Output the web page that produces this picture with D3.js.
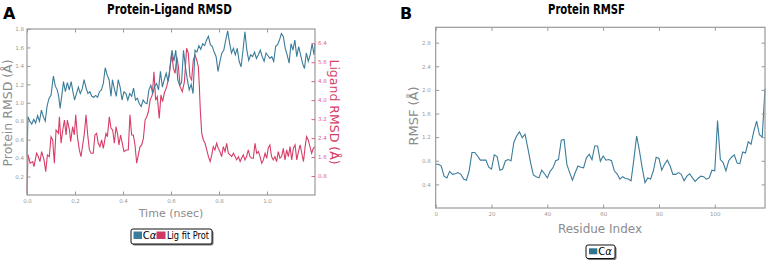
<!DOCTYPE html>
<html>
<head>
<meta charset="utf-8">
<script src="https://cdnjs.cloudflare.com/ajax/libs/d3/7.8.5/d3.min.js"></script>
<style>
  body { margin: 0; background: #fff; }
  svg { display: block; }
  text { font-family: "DejaVu Sans", sans-serif; }
</style>
</head>
<body>
<div id="wrapper"></div>
<script>
// ---- panel A : protein-ligand RMSD ----
const caTime = [
  0, 0.004, 0.012, 0.02, 0.028, 0.036, 0.044, 0.052, 0.06, 0.068,
  0.076, 0.084, 0.092, 0.1, 0.11, 0.118, 0.126, 0.132, 0.138, 0.146,
  0.152, 0.16, 0.168, 0.176, 0.184, 0.19, 0.198, 0.206, 0.214, 0.222,
  0.23, 0.238, 0.246, 0.254, 0.262, 0.27, 0.278, 0.286, 0.294, 0.302,
  0.31, 0.318, 0.326, 0.334, 0.342, 0.35, 0.356, 0.364, 0.372, 0.38,
  0.388, 0.396, 0.404, 0.412, 0.42, 0.428, 0.436, 0.444, 0.452, 0.46,
  0.468, 0.476, 0.484, 0.492, 0.5, 0.508, 0.516, 0.524, 0.532, 0.54,
  0.548, 0.556, 0.564, 0.572, 0.58, 0.588, 0.596, 0.604, 0.612, 0.62,
  0.628, 0.636, 0.644, 0.652, 0.66, 0.668, 0.676, 0.684, 0.692, 0.7,
  0.708, 0.716, 0.724, 0.732, 0.74, 0.748, 0.756, 0.764, 0.772, 0.78,
  0.788, 0.796, 0.804, 0.812, 0.82, 0.828, 0.836, 0.844, 0.852, 0.86,
  0.868, 0.876, 0.884, 0.892, 0.9, 0.908, 0.916, 0.924, 0.932, 0.94,
  0.948, 0.956, 0.964, 0.972, 0.98, 0.988, 0.996, 1.004, 1.012, 1.02,
  1.028, 1.036, 1.044, 1.052, 1.06, 1.068, 1.076, 1.084, 1.092, 1.1,
  1.108, 1.116, 1.124, 1.132, 1.14, 1.148, 1.156, 1.164, 1.172, 1.18,
  1.188, 1.196, 1.2
]
const caRmsd = [
  0.42, 0.85, 0.80, 0.77, 0.82, 0.78, 0.86, 0.80, 0.92, 0.85,
  0.80, 0.97, 1.05, 1.08, 1.29, 1.18, 1.14, 1.07, 0.94, 1.10,
  1.23, 1.12, 1.22, 1.14, 1.23, 1.14, 1.03, 1.10, 1.17, 1.10,
  1.15, 1.25, 1.16, 1.10, 1.12, 1.07, 1.06, 1.08, 1.06, 1.12,
  1.14, 1.21, 1.38, 1.30, 1.25, 1.07, 1.25, 1.15, 1.07, 1.25,
  1.17, 1.03, 1.12, 1.10, 1.03, 1.10, 1.07, 1.16, 1.03, 1.05,
  0.99, 0.96, 1.03, 1.00, 0.99, 1.14, 1.19, 1.10, 1.18, 1.21,
  1.14, 1.34, 1.17, 1.25, 1.32, 1.23, 1.39, 1.57, 1.45, 1.57,
  1.25, 1.19, 1.22, 1.57, 1.39, 1.25, 1.14, 1.20, 1.10, 1.57,
  1.55, 1.62, 1.58, 1.64, 1.62, 1.68, 1.72, 1.63, 1.61, 1.55,
  1.50, 1.34, 1.45, 1.54, 1.57, 1.68, 1.78, 1.65, 1.54, 1.59,
  1.52, 1.59, 1.45, 1.39, 1.57, 1.77, 1.57, 1.46, 1.52, 1.50,
  1.55, 1.48, 1.52, 1.57, 1.50, 1.45, 1.54, 1.51, 1.48, 1.50,
  1.45, 1.61, 1.63, 1.68, 1.75, 1.72, 1.59, 1.52, 1.43, 1.64,
  1.57, 1.68, 1.50, 1.61, 1.52, 1.43, 1.37, 1.54, 1.45, 1.52,
  1.64, 1.52, 1.64
]
const ligTime = [
  0, 0.004, 0.013, 0.024, 0.029, 0.040, 0.047, 0.054, 0.061, 0.071,
  0.078, 0.085, 0.093, 0.100, 0.107, 0.114, 0.121, 0.131, 0.135, 0.142,
  0.149, 0.156, 0.163, 0.168, 0.177, 0.182, 0.190, 0.197, 0.203, 0.210,
  0.218, 0.225, 0.232, 0.239, 0.246, 0.253, 0.260, 0.267, 0.276, 0.283,
  0.290, 0.297, 0.304, 0.311, 0.318, 0.329, 0.335, 0.343, 0.350, 0.357,
  0.364, 0.371, 0.378, 0.383, 0.390, 0.397, 0.404, 0.413, 0.422, 0.429,
  0.436, 0.443, 0.450, 0.457, 0.464, 0.471, 0.478, 0.485, 0.492, 0.499,
  0.506, 0.513, 0.522, 0.529, 0.536, 0.543, 0.551, 0.558, 0.565, 0.572,
  0.582, 0.592, 0.603, 0.610, 0.617, 0.624, 0.631, 0.638, 0.647, 0.656,
  0.665, 0.672, 0.679, 0.686, 0.693, 0.700, 0.707, 0.714, 0.718, 0.722,
  0.728, 0.735, 0.742, 0.749, 0.756, 0.763, 0.770, 0.776, 0.783, 0.790,
  0.797, 0.804, 0.811, 0.818, 0.825, 0.832, 0.839, 0.846, 0.853, 0.860,
  0.867, 0.874, 0.881, 0.888, 0.894, 0.901, 0.908, 0.915, 0.922, 0.929,
  0.936, 0.943, 0.950, 0.957, 0.964, 0.971, 0.978, 0.985, 0.992, 0.999,
  1.005, 1.012, 1.019, 1.026, 1.033, 1.040, 1.047, 1.054, 1.061, 1.068,
  1.075, 1.082, 1.089, 1.096, 1.103, 1.110, 1.117, 1.124, 1.131, 1.138,
  1.145, 1.152, 1.159, 1.165, 1.172, 1.179, 1.186, 1.193, 1.2
]
const ligRmsd = [
  0.07, 1.7, 1.34, 1.41, 1.2, 1.76, 1.62, 1.41, 1.83, 1.48,
  0.98, 1.69, 1.62, 2.46, 2.32, 1.34, 2.74, 2.6, 3.3, 2.18,
  2.74, 3.16, 2.53, 3.16, 2.74, 2.25, 2.88, 2.53, 3.38, 2.46,
  1.9, 1.62, 2.11, 2.6, 3.38, 2.53, 1.9, 1.76, 1.76, 2.53,
  2.6, 2.18, 2.04, 2.32, 1.97, 2.6, 2.46, 3.3, 2.81, 2.74,
  2.18, 2.88, 2.53, 2.11, 2.53, 2.18, 1.83, 1.9, 1.9, 3.38,
  2.53, 2.53, 2.11, 1.34, 1.69, 2.04, 2.11, 2.39, 3.16, 3.3,
  3.52, 4.0, 4.22, 5.2, 4.0, 4.15, 3.23, 4.22, 3.94, 4.29,
  4.57, 5.0, 5.98, 5.35, 5.13, 5.84, 5.41, 4.57, 4.36, 4.78,
  6.19, 5.98, 4.99, 4.85, 5.7, 5.91, 5.7, 5.41, 4.6, 3.6,
  2.6, 2.32, 2.18, 1.9, 1.62, 1.41, 1.69, 2.04, 1.9, 2.18,
  1.97, 1.83, 1.62, 2.04, 1.83, 2.18, 1.76, 1.69, 1.62, 1.76,
  1.62, 1.48, 1.62, 1.41, 1.55, 1.69, 1.48, 1.62, 1.9, 1.62,
  1.55, 1.55, 2.18, 1.76, 1.83, 1.62, 1.34, 1.48, 1.76, 1.55,
  1.97, 2.11, 1.62, 1.48, 1.62, 1.41, 1.83, 1.55, 1.62, 1.97,
  1.48, 1.9, 1.62, 2.04, 1.48, 1.97, 2.11, 1.48, 1.83, 2.11,
  1.76, 1.41, 2.04, 2.46, 2.32, 2.04, 1.76, 1.97, 2.04
]
const timeTicks = [0, 0.2, 0.4, 0.6, 0.8, 1.0]
const proteinTicks = [0.2, 0.4, 0.6, 0.8, 1.0, 1.2, 1.4, 1.6, 1.8]
const ligandTicks = [0.8, 1.6, 2.4, 3.2, 4.0, 4.8, 5.6, 6.4]

// ---- panel B : protein RMSF ----
const rmsfValues = [
  0.74, 0.74, 0.71, 0.54, 0.51, 0.62, 0.57, 0.58, 0.6, 0.57,
  0.49, 0.47, 0.63, 0.94, 0.94, 0.88, 0.81, 0.81, 0.81, 0.69,
  0.66, 0.9, 0.87, 0.64, 0.66, 0.8, 0.82, 0.8, 1.11, 1.22,
  1.29, 1.19, 1.25, 1.02, 0.77, 0.56, 0.53, 0.51, 0.64, 0.58,
  0.51, 0.62, 0.68, 0.8, 0.82, 1.15, 1.16, 0.74, 0.6, 0.47,
  0.6, 0.71, 0.69, 0.68, 0.85, 0.91, 0.82, 1.05, 1.05, 0.79,
  0.88, 0.81, 0.82, 0.8, 0.63, 0.58, 0.49, 0.53, 0.5, 0.49,
  0.46, 0.82, 1.22, 0.97, 0.68, 0.43, 0.51, 0.49, 0.63, 0.86,
  0.84, 0.64, 0.74, 0.81, 0.71, 0.57, 0.57, 0.6, 0.57, 0.46,
  0.54, 0.58, 0.51, 0.45, 0.5, 0.54, 0.53, 0.49, 0.51, 0.64,
  0.63, 1.48, 0.82, 0.77, 0.63, 0.8, 0.86, 0.9, 0.76, 0.75,
  0.95, 0.93, 1.12, 1.08, 1.3, 1.47, 1.24, 1.2, 2.02
]
const residueIndex = rmsfValues.map((d, i) => i)
const residueTicks = [0, 20, 40, 60, 80, 100]
const rmsfTicks = [0.4, 0.8, 1.2, 1.6, 2.0, 2.4, 2.8]

const blue = "#3a7c9a"
const red = "#d63d67"
const gray = "#999"

function drawCharts() {
  const wrapper = d3.select("#wrapper").append("svg")
    .attr("width", 768)
    .attr("height", 262)

  // panel letters + titles
  wrapper.append("text").attr("x", 3).attr("y", 18.5)
    .attr("font-family", "Liberation Sans, Arial, sans-serif")
    .attr("font-weight", "bold").attr("font-size", 16).text("A")
  wrapper.append("text").attr("x", 400).attr("y", 18.5)
    .attr("font-family", "Liberation Sans, Arial, sans-serif")
    .attr("font-weight", "bold").attr("font-size", 16).text("B")

  wrapper.append("text").attr("x", 107).attr("y", 13.5)
    .attr("font-family", "Liberation Sans Narrow, Arial Narrow, Liberation Sans, sans-serif")
    .attr("font-weight", "bold").attr("font-size", 14.5)
    .attr("textLength", 125).attr("lengthAdjust", "spacingAndGlyphs")
    .text("Protein-Ligand RMSD")
  wrapper.append("text").attr("x", 548).attr("y", 13.5)
    .attr("font-family", "Liberation Sans Narrow, Arial Narrow, Liberation Sans, sans-serif")
    .attr("font-weight", "bold").attr("font-size", 14.5)
    .attr("textLength", 77).attr("lengthAdjust", "spacingAndGlyphs")
    .text("Protein RMSF")

  // ===== panel A =====
  const dimA = { left: 27, right: 315, top: 29, bottom: 195 }

  const xScaleA = d3.scaleLinear().domain([0, 1.2]).range([dimA.left, dimA.right])
  const yScaleA = d3.scaleLinear().domain([0, 1.8]).range([dimA.bottom, dimA.top])
  const y2ScaleA = d3.scaleLinear().domain([0, 7]).range([dimA.bottom, dimA.top])

  const caLine = d3.line()
    .x((d, i) => xScaleA(caTime[i]))
    .y(d => yScaleA(d))
  const ligLine = d3.line()
    .x((d, i) => xScaleA(ligTime[i]))
    .y(d => y2ScaleA(d))

  wrapper.append("path")
    .attr("d", ligLine(ligRmsd))
    .attr("fill", "none").attr("stroke", red).attr("stroke-width", 1.1)
  wrapper.append("path")
    .attr("d", caLine(caRmsd))
    .attr("fill", "none").attr("stroke", blue).attr("stroke-width", 1.1)

  wrapper.append("rect")
    .attr("x", dimA.left).attr("y", dimA.top)
    .attr("width", dimA.right - dimA.left).attr("height", dimA.bottom - dimA.top)
    .attr("fill", "none").attr("stroke", gray).attr("stroke-width", 1.2)

  const axA = [
    wrapper.append("g").attr("transform", `translate(${dimA.left},0)`)
      .call(d3.axisLeft(yScaleA).tickValues(proteinTicks).tickSize(-3.5).tickPadding(3).tickFormat(d3.format(".1f"))),
    wrapper.append("g").attr("transform", `translate(0,${dimA.bottom})`)
      .call(d3.axisBottom(xScaleA).tickValues(timeTicks).tickSize(-3.5).tickPadding(4).tickFormat(d3.format(".1f"))),
    wrapper.append("g").attr("transform", `translate(0,${dimA.top})`)
      .call(d3.axisTop(xScaleA).tickValues(timeTicks).tickSize(-3.5).tickFormat("")),
    wrapper.append("g").attr("transform", `translate(${dimA.right},0)`)
      .call(d3.axisRight(y2ScaleA).tickValues(ligandTicks).tickSize(-3.5).tickPadding(3).tickFormat(d3.format(".1f")))
  ]
  axA.forEach(g => {
    g.select(".domain").remove()
    g.selectAll("line").attr("stroke", gray)
    g.selectAll("text").attr("fill", gray).attr("font-size", 5.5)
  })
  axA[3].selectAll("text").attr("fill", "#d8638a")
  axA[3].selectAll("line").attr("stroke", "#d8638a")

  wrapper.append("text")
    .attr("transform", `translate(12,113) rotate(-90)`)
    .attr("text-anchor", "middle").attr("fill", "#8c8c8c").attr("font-size", 12.5)
    .text("Protein RMSD (Å)")
  wrapper.append("text")
    .attr("transform", `translate(330,112) rotate(90)`)
    .attr("text-anchor", "middle").attr("fill", red).attr("font-size", 12.5)
    .text("Ligand RMSD (Å)")
  wrapper.append("text")
    .attr("x", 171).attr("y", 217)
    .attr("text-anchor", "middle").attr("fill", "#8c8c8c").attr("font-size", 11)
    .text("Time (nsec)")

  // legend A
  const legA = wrapper.append("g").attr("transform", "translate(131,229)")
  legA.append("rect").attr("x", 1.5).attr("y", 1.5).attr("width", 81).attr("height", 15)
    .attr("rx", 2).attr("fill", "#777")
  legA.append("rect").attr("width", 81).attr("height", 15).attr("rx", 2)
    .attr("fill", "#fff").attr("stroke", "#111").attr("stroke-width", 1)
  legA.append("rect").attr("x", 2.5).attr("y", 2.5).attr("width", 8.5).attr("height", 7.5).attr("fill", blue)
  legA.append("text").attr("x", 11.8).attr("y", 10)
    .attr("font-family", "Liberation Sans, Arial, sans-serif").attr("font-size", 10)
    .call(t => { t.append("tspan").text("C"); t.append("tspan").attr("font-style", "italic").text("α") })
  legA.append("rect").attr("x", 25.5).attr("y", 2.5).attr("width", 9).attr("height", 7.5).attr("fill", "#cf3862")
  legA.append("text").attr("x", 36).attr("y", 10)
    .attr("font-family", "Liberation Sans, Arial, sans-serif").attr("font-size", 10)
    .attr("textLength", 42).attr("lengthAdjust", "spacingAndGlyphs")
    .text("Lig fit Prot")

  // ===== panel B =====
  const dimB = { left: 435.7, right: 765, top: 27.3, bottom: 208 }

  const xScaleB = d3.scaleLinear().domain([0, 118]).range([dimB.left, dimB.right])
  const yScaleB = d3.scaleLinear().domain([0, 3.06]).range([dimB.bottom, dimB.top])

  const rmsfLine = d3.line()
    .x((d, i) => xScaleB(residueIndex[i]))
    .y(d => yScaleB(d))

  wrapper.append("path")
    .attr("d", rmsfLine(rmsfValues))
    .attr("fill", "none").attr("stroke", blue).attr("stroke-width", 1.1)

  wrapper.append("rect")
    .attr("x", dimB.left).attr("y", dimB.top)
    .attr("width", dimB.right - dimB.left).attr("height", dimB.bottom - dimB.top)
    .attr("fill", "none").attr("stroke", gray).attr("stroke-width", 1.2)

  const axB = [
    wrapper.append("g").attr("transform", `translate(${dimB.left},0)`)
      .call(d3.axisLeft(yScaleB).tickValues(rmsfTicks).tickSize(-3.5).tickPadding(5).tickFormat(d3.format(".1f"))),
    wrapper.append("g").attr("transform", `translate(0,${dimB.bottom})`)
      .call(d3.axisBottom(xScaleB).tickValues(residueTicks).tickSize(-3.5).tickPadding(4)),
    wrapper.append("g").attr("transform", `translate(0,${dimB.top})`)
      .call(d3.axisTop(xScaleB).tickValues(residueTicks).tickSize(-3.5).tickFormat("")),
    wrapper.append("g").attr("transform", `translate(${dimB.right},0)`)
      .call(d3.axisRight(yScaleB).tickValues(rmsfTicks).tickSize(-3.5).tickFormat(""))
  ]
  axB.forEach(g => {
    g.select(".domain").remove()
    g.selectAll("line").attr("stroke", gray)
    g.selectAll("text").attr("fill", gray).attr("font-size", 5.5)
  })

  wrapper.append("text")
    .attr("transform", `translate(418,116) rotate(-90)`)
    .attr("text-anchor", "middle").attr("fill", "#8c8c8c").attr("font-size", 13)
    .text("RMSF (Å)")
  wrapper.append("text")
    .attr("x", 600).attr("y", 232.5)
    .attr("text-anchor", "middle").attr("fill", "#8c8c8c").attr("font-size", 12)
    .text("Residue Index")

  // legend B
  const legB = wrapper.append("g").attr("transform", "translate(586,245)")
  legB.append("rect").attr("x", 1.5).attr("y", 1.5).attr("width", 29).attr("height", 13.5)
    .attr("rx", 2).attr("fill", "#777")
  legB.append("rect").attr("width", 29).attr("height", 13.5).attr("rx", 2)
    .attr("fill", "#fff").attr("stroke", "#111").attr("stroke-width", 1)
  legB.append("rect").attr("x", 3).attr("y", 3.3).attr("width", 8.3).attr("height", 6).attr("fill", "#2f7391")
  legB.append("text").attr("x", 12.3).attr("y", 10)
    .attr("font-family", "Liberation Sans, Arial, sans-serif").attr("font-size", 10)
    .call(t => { t.append("tspan").text("C"); t.append("tspan").attr("font-style", "italic").text("α") })
}

drawCharts()
</script>
</body>
</html>
